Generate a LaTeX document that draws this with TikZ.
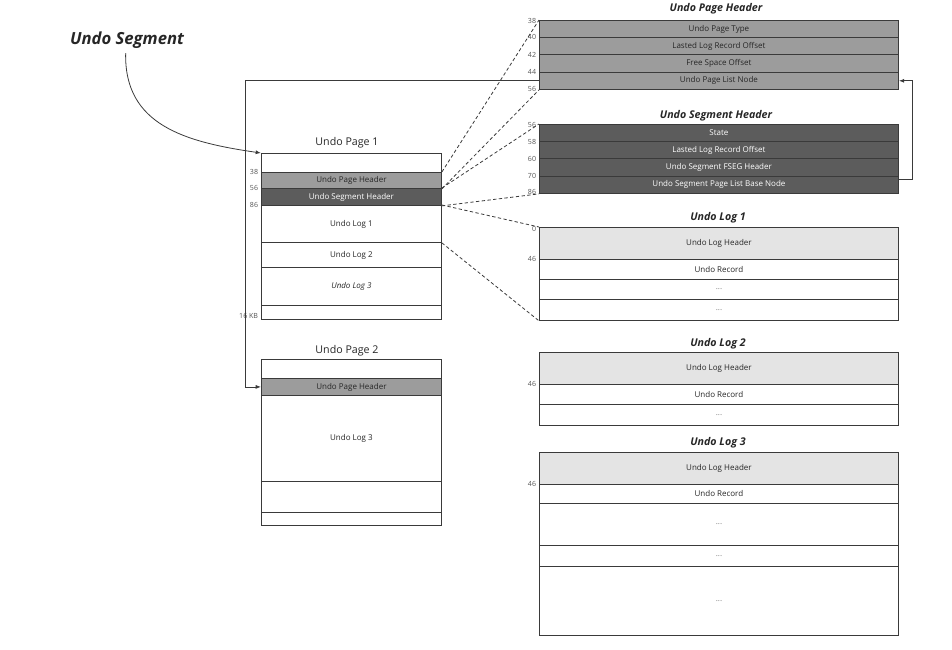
\documentclass[tikz,border=0pt]{standalone}
\usepackage{fontspec}
\setmainfont{Open Sans}
\usetikzlibrary{arrows.meta}
\definecolor{linec}{HTML}{3A3A3A}
\definecolor{midgray}{HTML}{9C9C9C}
\definecolor{darkgray}{HTML}{5C5C5C}
\definecolor{lightgray}{HTML}{E4E4E4}
\definecolor{numc}{HTML}{555555}
\tikzset{
  cell/.style={draw=linec, line width=0.65pt, inner sep=0pt, anchor=north west,
    font=\fontsize{6}{7}\selectfont, text=black!85},
  pagehdr/.style={fill=midgray},
  seghdr/.style={fill=darkgray, text=white},
  loghdr/.style={fill=lightgray},
  blank/.style={fill=white},
  title/.style={font=\fontsize{8}{9}\selectfont\bfseries\itshape, text=black!85},
  ptitle/.style={font=\fontsize{8}{9}\selectfont, text=black!85},
  num/.style={anchor=east, inner sep=0.5pt, font=\fontsize{5.3}{6}\selectfont, text=numc},
  link/.style={draw=linec, line width=0.6pt, -{Latex[length=4pt,width=3pt]}},
  dashline/.style={draw=linec, line width=0.6pt, dash pattern=on 2.5pt off 1.8pt},
}
\newcommand{\cellbox}[7]{\node[cell,#6,minimum width=#4*0.75pt,minimum height=#5*0.75pt] (#1) at (#2,#3) {#7};}
\begin{document}
\begin{tikzpicture}[x=0.75pt,y=-0.75pt]
\useasboundingbox (0,0) rectangle (952,649);

% ---------- Undo Segment label ----------
\node[font=\fontsize{12.5}{14}\selectfont\bfseries\itshape, text=black!85] (useg) at (127,40) {Undo Segment};

% ---------- Undo Page 1 ----------
\node[ptitle] (p1t) at (347,143) {Undo Page 1};
\cellbox{p1a}{261}{153}{180}{19}{blank}{}
\cellbox{p1b}{261}{172}{180}{16}{pagehdr}{Undo Page Header}
\cellbox{p1c}{261}{188}{180}{17}{seghdr}{Undo Segment Header}
\cellbox{p1d}{261}{205}{180}{37}{blank}{Undo Log 1}
\cellbox{p1e}{261}{242}{180}{25}{blank}{Undo Log 2}
\cellbox{p1f}{261}{267}{180}{38}{blank}{\itshape Undo Log 3}
\cellbox{p1g}{261}{305}{180}{14}{blank}{}
\node[num] (n38a) at (259,172) {38};
\node[num] (n56a) at (259,188) {56};
\node[num] (n86a) at (259,205) {86};
\node[num] (n16k) at (259,316) {16 KB};

% ---------- Undo Page 2 ----------
\node[ptitle] (p2t) at (347,351) {Undo Page 2};
\cellbox{p2a}{261}{359}{180}{19}{blank}{}
\cellbox{p2b}{261}{378}{180}{17}{pagehdr}{Undo Page Header}
\cellbox{p2c}{261}{395}{180}{86}{blank}{Undo Log 3}
\cellbox{p2d}{261}{481}{180}{31}{blank}{}
\cellbox{p2e}{261}{512}{180}{13}{blank}{}

% ---------- Undo Page Header ----------
\node[title] (upht) at (716,8.5) {Undo Page Header};
\cellbox{uph1}{539}{20}{359}{17.25}{pagehdr}{Undo Page Type}
\cellbox{uph2}{539}{37.25}{359}{17.25}{pagehdr}{Lasted Log Record Offset}
\cellbox{uph3}{539}{54.5}{359}{17.25}{pagehdr}{Free Space Offset}
\cellbox{uph4}{539}{71.75}{359}{17.25}{pagehdr}{Undo Page List Node}
\node[num] (u38) at (537,21) {38};
\node[num] (u40) at (537,37) {40};
\node[num] (u42) at (537,55) {42};
\node[num] (u44) at (537,72) {44};
\node[num] (u56) at (537,89) {56};

% ---------- Undo Segment Header ----------
\node[title] (usht) at (716,116) {Undo Segment Header};
\cellbox{ush1}{539}{124}{359}{17.25}{seghdr}{State}
\cellbox{ush2}{539}{141.25}{359}{17.25}{seghdr}{Lasted Log Record Offset}
\cellbox{ush3}{539}{158.5}{359}{17.25}{seghdr}{Undo Segment FSEG Header}
\cellbox{ush4}{539}{175.75}{359}{17.25}{seghdr}{Undo Segment Page List Base Node}
\node[num] (s56) at (537,125) {56};
\node[num] (s58) at (537,142) {58};
\node[num] (s60) at (537,159) {60};
\node[num] (s70) at (537,176) {70};
\node[num] (s86) at (537,192) {86};

% ---------- Undo Log 1 ----------
\node[title] (ul1t) at (718,218) {Undo Log 1};
\cellbox{ul1a}{539}{227}{359}{32}{loghdr}{Undo Log Header}
\cellbox{ul1b}{539}{259}{359}{20}{blank}{Undo Record}
\cellbox{ul1c}{539}{279}{359}{20}{blank}{\textcolor{black!50}{...}}
\cellbox{ul1d}{539}{299}{359}{21}{blank}{\textcolor{black!50}{...}}
\node[num] (l10) at (537,229) {0};
\node[num] (l146) at (537,259) {46};

% ---------- Undo Log 2 ----------
\node[title] (ul2t) at (718,344) {Undo Log 2};
\cellbox{ul2a}{539}{352}{359}{32}{loghdr}{Undo Log Header}
\cellbox{ul2b}{539}{384}{359}{20}{blank}{Undo Record}
\cellbox{ul2c}{539}{404}{359}{21}{blank}{\textcolor{black!50}{...}}
\node[num] (l246) at (537,384) {46};

% ---------- Undo Log 3 ----------
\node[title] (ul3t) at (718,443) {Undo Log 3};
\cellbox{ul3a}{539}{452}{359}{32}{loghdr}{Undo Log Header}
\cellbox{ul3b}{539}{484}{359}{19}{blank}{Undo Record}
\cellbox{ul3c}{539}{503}{359}{42}{blank}{\textcolor{black!50}{...}}
\cellbox{ul3d}{539}{545}{359}{21}{blank}{\textcolor{black!50}{...}}
\cellbox{ul3e}{539}{566}{359}{69}{blank}{\textcolor{black!50}{...}}
\node[num] (l346) at (537,484) {46};

% ---------- connectors ----------
\draw[link] ([xshift=-1pt]useg.south) .. controls (124,125) and (185,142) .. (p1a.north west);

\coordinate (bendA) at (245,80);
\draw[link] (uph4.west) -- (uph4.west -| bendA) |- (p2b.west);

\coordinate (bendB) at (912,180);
\draw[link] ([yshift=-2.6pt]ush4.north east) -- ([yshift=-2.6pt]ush4.north east -| bendB) |- (uph4.east);

\draw[dashline] (p1b.north east) -- (uph1.north west);
\draw[dashline] (p1b.south east) -- (uph4.south west);
\draw[dashline] (p1c.north east) -- (ush1.north west);
\draw[dashline] (p1c.south east) -- (ush4.south west);
\draw[dashline] (p1d.north east) -- (ul1a.north west);
\draw[dashline] (p1d.south east) -- (ul1d.south west);
\end{tikzpicture}
\end{document}
